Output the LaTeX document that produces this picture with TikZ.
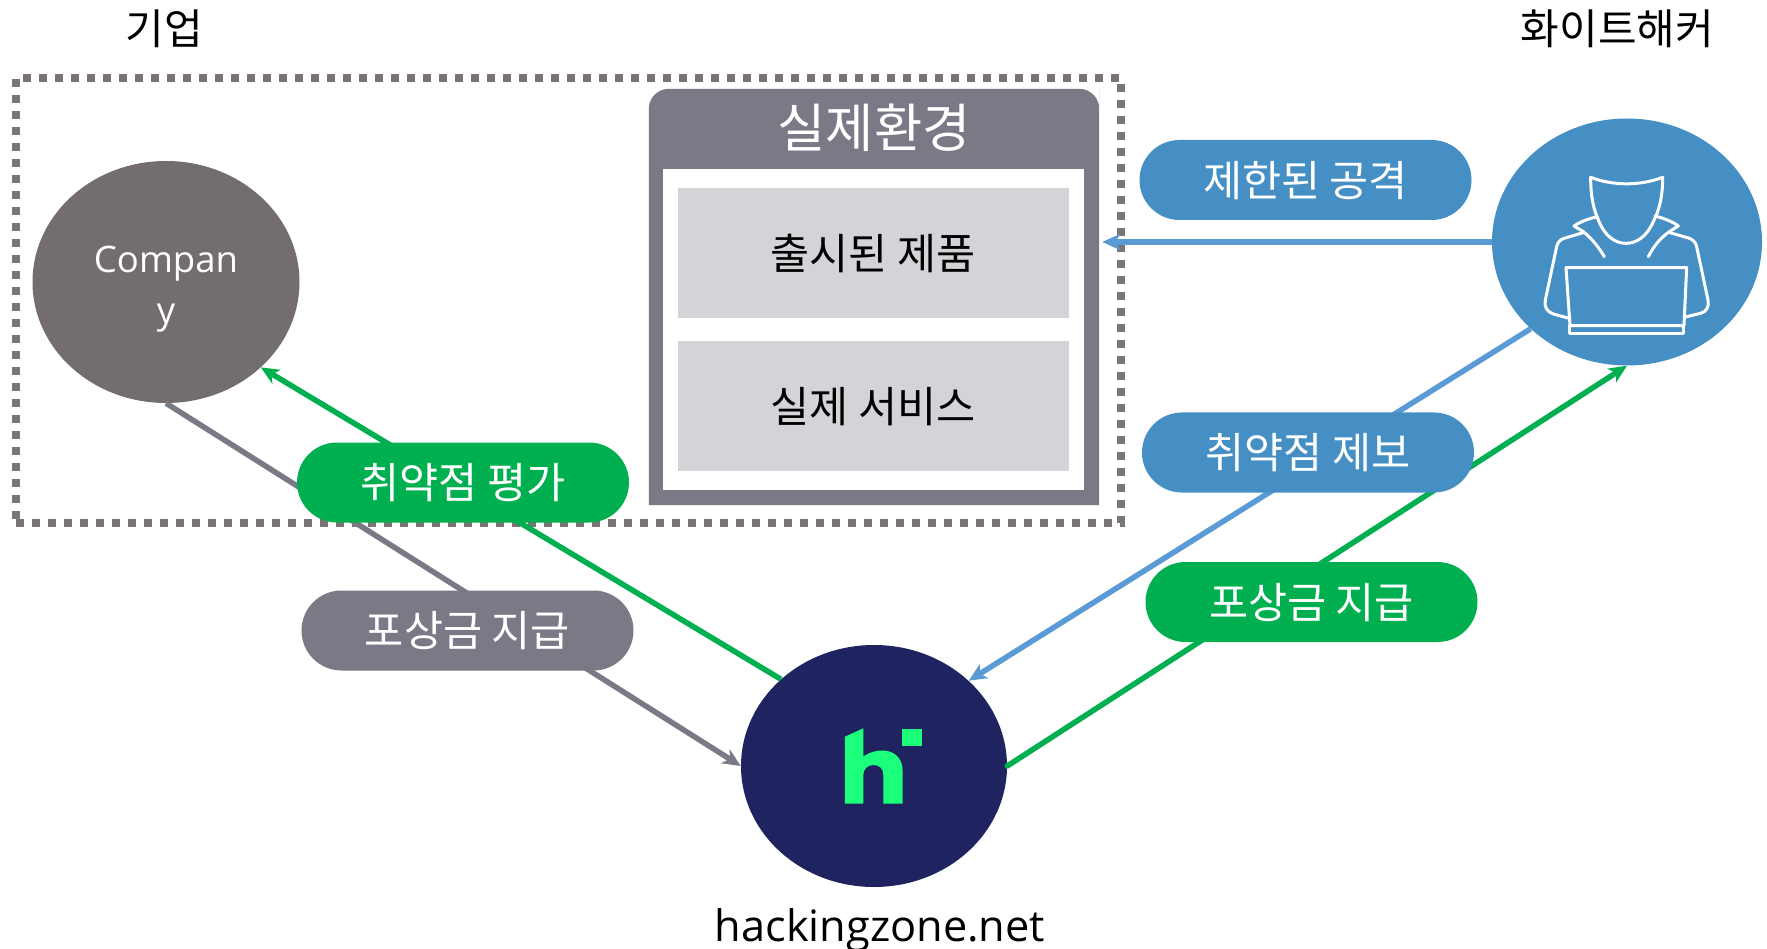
\documentclass[tikz,border=0pt]{standalone}
\usepackage{fontspec}
\setmainfont{Noto Sans CJK KR}
\newfontfamily\latinf{Open Sans}
\usetikzlibrary{shapes.geometric,arrows.meta,positioning}
\definecolor{pgreen}{HTML}{00B050}
\definecolor{pblue}{HTML}{458FC4}
\definecolor{lblue}{HTML}{5B9BD5}
\definecolor{pgray}{HTML}{7A7A87}
\definecolor{cgray}{HTML}{736E6D}
\definecolor{navy}{HTML}{1F2460}
\definecolor{hgreen}{HTML}{1BFF7B}
\definecolor{lgray}{HTML}{D3D3D8}
\tikzset{
  pill/.style={rounded corners=40pt,minimum width=332pt,minimum height=80pt,inner sep=0pt,text=white,text height=36.5pt,text depth=4pt,font=\fontsize{42.5}{48}\selectfont},
  blob/.style={ellipse,inner sep=0pt,draw=none},
  conn/.style={line width=5.5pt},
  tip/.style={-{Stealth[length=18pt,width=16pt,inset=5pt]}},
  panel/.style={minimum width=391pt,minimum height=130pt,inner sep=0pt,fill=lgray,text height=36.5pt,text depth=4pt,font=\fontsize{42.5}{48}\selectfont},
  caption/.style={inner sep=0pt,font=\fontsize{42}{48}\selectfont},
}
\begin{document}
\begin{tikzpicture}[x=1pt,y=-1pt]
\useasboundingbox[fill=white] (0,0) rectangle (1767,949);
% zone
\node[draw=cgray!95,line width=8pt,dash pattern=on 8pt off 8pt,minimum width=1105pt,minimum height=445pt,inner sep=0pt] (zone) at (568.5,300.5) {};
% real environment
\node[minimum width=450pt,minimum height=416pt,inner sep=0pt] (real) at (874,297) {};
\fill[pgray,rounded corners=20pt] (real.south west) [sharp corners] -- ([yshift=-20pt]real.north west) [rounded corners=20pt] -- (real.north west) -- (real.north east) -- ([yshift=-20pt]real.north east) [sharp corners] -- (real.south east) -- cycle;
\node[fill=white,minimum width=421pt,minimum height=321pt,inner sep=0pt] (inner) at (873.5,329.5) {};
\node[inner sep=0pt,text=white,font=\fontsize{52.5}{58}\selectfont] (title) at (874,128) {실제환경};
\node[panel] (p1) at (873,253) {출시된 제품};
\node[panel] (p2) at (873,406) {실제 서비스};
% blobs
\node[blob,fill=cgray,minimum width=267pt,minimum height=242pt] (co) at (166,282) {};
\node[inner sep=0pt,text=white,align=center,font=\latinf\fontsize{36.5}{51}\selectfont] (colabel) at (166,289) {Compan\\y};
\node[blob,fill=navy,minimum width=266pt,minimum height=242pt] (hz) at (874,766) {};
\node[blob,fill=pblue,minimum width=270pt,minimum height=247pt] (hk) at (1627,242) {};
% connectors
\draw[conn,pgray,tip] (co.south) -- (hz.west);
\draw[conn,pgreen,tip] (hz.137.5) -- (co.-42.5);
\draw[conn,lblue,tip] (hk.west) -- ([xshift=3pt]real.east |- hk.west);
\draw[conn,lblue,tip] (hk.222.5) -- (hz.42);
\draw[conn,pgreen,tip,line cap=round] (hz.east) -- (hk.south);
% pills
\node[pill,fill=pblue] (a1) at (1305.5,180) {제한된 공격};
\node[pill,fill=pblue] (a2) at (1308,452.5) {취약점 제보};
\node[pill,fill=pgreen] (a3) at (1311.5,602) {포상금 지급};
\node[pill,fill=pgreen] (a4) at (463,482.5) {취약점 평가};
\node[pill,fill=pgray] (a5) at (467.5,630.5) {포상금 지급};
% captions
\node[caption] (t1) at (164,29) {기업};
\node[caption] (t2) at (1617.5,29) {화이트해커};
\node[inner sep=0pt,font=\latinf\fontsize{43.3}{50}\selectfont] (t3) at (880,930) {hackingzone.net};
% h logo
\begin{scope}[shift={(720,630)},x=0.3333pt,y=-0.3333pt]
\fill[hgreen] (375,320) -- (430,295) -- (430,380) .. controls (450,365) and (475,360) .. (495,362) .. controls (530,366) and (548,390) .. (548,425) -- (548,521) -- (490,521) -- (490,435) .. controls (490,415) and (478,405) .. (460,405) .. controls (442,405) and (430,418) .. (430,435) -- (430,521) -- (375,521) -- cycle;
\fill[hgreen] (547,296) rectangle (605,348);
\end{scope}
% hacker icon
\begin{scope}[shift={(1470,100)},x=0.3333pt,y=-0.3333pt,draw=white,line width=3pt,line join=round,line cap=round]
\draw (362,232) .. controls (430,258) and (510,258) .. (578,232) .. controls (578,290) and (568,330) .. (550,365) .. controls (530,410) and (500,430) .. (468,430) .. controls (436,430) and (405,410) .. (385,360) .. controls (370,325) and (362,290) .. (362,232) -- cycle;
\draw (382,350) .. controls (355,356) and (330,366) .. (312,378) -- (340,395) .. controls (365,415) and (385,440) .. (403,470);
\draw (555,348) .. controls (585,356) and (610,366) .. (625,378) -- (598,395) .. controls (570,415) and (550,440) .. (535,470);
\draw (340,398) -- (282,415) .. controls (268,420) and (262,430) .. (260,440) -- (226,600) .. controls (222,620) and (230,635) .. (250,642) -- (297,655);
\draw (600,398) -- (658,415) .. controls (672,420) and (678,430) .. (680,440) -- (714,600) .. controls (718,620) and (710,635) .. (692,640) -- (642,652);
\draw (288,503) -- (650,503) -- (642,677) -- (300,677) -- cycle;
\draw (298,677) -- (298,702) -- (640,702) -- (640,677);
\end{scope}
\end{tikzpicture}
\end{document}
